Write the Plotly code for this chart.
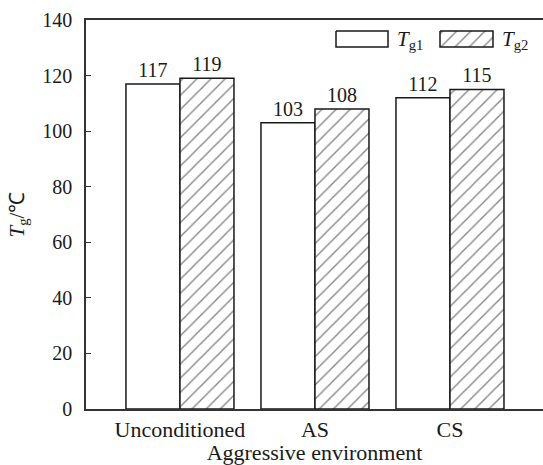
import plotly.graph_objects as go

# Glass transition temperatures by aggressive environment
categories = ["Unconditioned", "AS", "CS"]
tg1 = [117, 103, 112]
tg2 = [119, 108, 115]
y_ticks = [0, 20, 40, 60, 80, 100, 120, 140]

FONT = "Liberation Serif"
INK = "#1a1a1a"
HATCH = dict(shape="/", size=10, solidity=0.14, fgcolor="#111111", bgcolor="white")

fig = go.Figure()

fig.add_trace(go.Bar(
    x=categories, y=tg1, name="Tg1",
    marker=dict(color="white", line=dict(color=INK, width=1.5)),
    text=tg1, textposition="outside", cliponaxis=False,
    textfont=dict(family=FONT, size=20, color=INK),
    showlegend=False,
))
fig.add_trace(go.Bar(
    x=categories, y=tg2, name="Tg2",
    marker=dict(color="white", line=dict(color=INK, width=1.5), pattern=HATCH),
    text=tg2, textposition="outside", cliponaxis=False,
    textfont=dict(family=FONT, size=20, color=INK),
    showlegend=False,
))

# Hand-drawn legend on an overlay axis pair measured in pixels
swatches = [
    dict(x0=336, x1=388, label="<i>T</i><sub>g1</sub>", hatched=False),
    dict(x0=440, x1=493, label="<i>T</i><sub>g2</sub>", hatched=True),
]
sy0, sy1 = 31, 47
for s in swatches:
    kw = {"fillpattern": HATCH} if s["hatched"] else {}
    fig.add_trace(go.Scatter(
        x=[s["x0"], s["x1"], s["x1"], s["x0"], s["x0"]],
        y=[sy0, sy0, sy1, sy1, sy0],
        mode="lines", fill="toself", fillcolor="white",
        line=dict(color=INK, width=1.5),
        xaxis="x2", yaxis="y2", showlegend=False, hoverinfo="skip", **kw,
    ))
    fig.add_annotation(
        x=s["x1"] + 7, y=(sy0 + sy1) / 2 + 1, xref="x2", yref="y2",
        xanchor="left", yanchor="middle", showarrow=False,
        text=s["label"], font=dict(family=FONT, size=21, color=INK),
    )

fig.update_layout(
    width=543, height=465,
    margin=dict(l=86, r=0, t=20, b=56),
    plot_bgcolor="rgba(0,0,0,0)", paper_bgcolor="white",
    barmode="group", bargap=0.2, bargroupgap=0,
    font=dict(family=FONT, size=20, color=INK),
    xaxis=dict(
        range=[-0.696, 2.689], showgrid=False, zeroline=False,
        showline=True, linecolor="#333333", linewidth=1.5, mirror=True,
        ticks="", tickfont=dict(family=FONT, size=22, color=INK),
        title=dict(text="Aggressive environment", standoff=6,
                   font=dict(family=FONT, size=22, color=INK)),
    ),
    yaxis=dict(
        range=[0, 140], tickvals=y_ticks, showgrid=False, zeroline=False,
        showline=True, linecolor="#333333", linewidth=1.5,
        ticks="inside", ticklen=5, tickwidth=1, tickcolor="#333333",
        ticklabelstandoff=8,
        tickfont=dict(family=FONT, size=20, color=INK),
        title=dict(text="<i>T</i><sub>g</sub>/℃", standoff=12,
                   font=dict(family=FONT, size=21, color=INK)),
    ),
    xaxis2=dict(domain=[0, 1], range=[86, 543], anchor="y2", visible=False,
                fixedrange=True),
    yaxis2=dict(domain=[0, 1], range=[409, 20], anchor="x2", visible=False,
                fixedrange=True),
)

fig.write_html("out.html")
